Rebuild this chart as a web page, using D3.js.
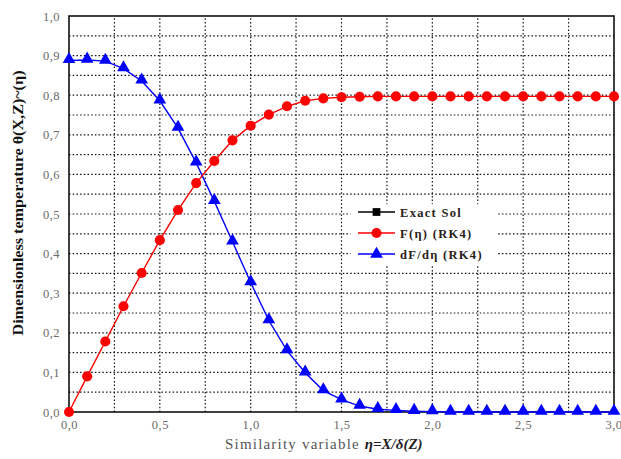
<!DOCTYPE html>
<html>
<head>
<meta charset="utf-8">
<script src="https://cdn.jsdelivr.net/npm/d3@7"></script>
<style>
  body { margin: 0; background: #fff; }
  svg text { font-family: "Liberation Serif", "DejaVu Serif", serif; }
</style>
</head>
<body>
<div id="chart"></div>
<script>
// similarity variable eta
const eta = [0, 0.1, 0.2, 0.3, 0.4, 0.5, 0.6, 0.7, 0.8, 0.9, 1.0,
  1.1, 1.2, 1.3, 1.4, 1.5, 1.6, 1.7, 1.8, 1.9, 2.0,
  2.1, 2.2, 2.3, 2.4, 2.5, 2.6, 2.7, 2.8, 2.9, 3.0];

// F(eta) (RK4)
const fValues = [0, 0.090, 0.178, 0.267, 0.351, 0.434, 0.510, 0.578, 0.634, 0.686, 0.723,
  0.751, 0.772, 0.786, 0.792, 0.795, 0.796, 0.797, 0.797, 0.797, 0.797,
  0.797, 0.797, 0.797, 0.797, 0.797, 0.797, 0.797, 0.797, 0.797, 0.797];

// dF/deta (RK4)
const dfValues = [0.888, 0.889, 0.886, 0.867, 0.836, 0.786, 0.717, 0.629, 0.532, 0.430, 0.327,
  0.231, 0.155, 0.099, 0.054, 0.031, 0.015, 0.007, 0.004, 0.002, 0.001,
  0, 0, 0, 0, 0, 0, 0, 0, 0, 0];

const xTicks = [0, 0.5, 1.0, 1.5, 2.0, 2.5, 3.0];
const yTicks = [0, 0.1, 0.2, 0.3, 0.4, 0.5, 0.6, 0.7, 0.8, 0.9, 1.0];

const legendItems = ["Exact Sol", "F(η) (RK4)", "dF/dη (RK4)"];

const width = 621, height = 459;
const margin = {left: 69, right: 7, top: 16, bottom: 47};

const svg = d3.select("#chart").append("svg")
  .attr("width", width).attr("height", height);

const x = d3.scaleLinear().domain([0, 3]).range([margin.left, width - margin.right]);
const y = d3.scaleLinear().domain([0, 1]).range([height - margin.bottom, margin.top]);

const fmt = d => d3.format(".1f")(d).replace(".", ",");

// dotted grid
const grid = svg.append("g");
grid.selectAll("line.h")
  .data(d3.range(1, 20).map(i => i * 0.05))
  .join("line")
  .attr("x1", x(0)).attr("x2", x(3))
  .attr("y1", d => y(d)).attr("y2", d => y(d))
  .attr("stroke", "#111").attr("stroke-width", 1.2)
  .attr("stroke-dasharray", "1.5,2.2");
grid.selectAll("line.v")
  .data(d3.range(1, 12).map(i => i * 0.25))
  .join("line")
  .attr("y1", y(0)).attr("y2", y(1))
  .attr("x1", d => x(d)).attr("x2", d => x(d))
  .attr("stroke", "#111").attr("stroke-width", 1.2)
  .attr("stroke-dasharray", "1.5,2.2");

// axes
const xAxis = svg.append("g")
  .attr("transform", `translate(0,${y(0)})`)
  .call(d3.axisBottom(x).tickValues(xTicks).tickFormat(fmt).tickSize(0).tickPadding(8));
const yAxis = svg.append("g")
  .attr("transform", `translate(${x(0)},0)`)
  .call(d3.axisLeft(y).tickValues(yTicks).tickFormat(fmt).tickSize(0).tickPadding(9));
[xAxis, yAxis].forEach(a => {
  a.select(".domain").remove();
  a.selectAll("text")
    .attr("font-family", "Liberation Serif, serif")
    .attr("font-size", 12.5)
    .attr("fill", "#6b6b6b")
    .attr("letter-spacing", "0.5px");
});
// last x label sits at the right edge, keep it inside
xAxis.selectAll("text").filter(d => d === 3).attr("text-anchor", "end").attr("dx", 8);

// frame
svg.append("rect")
  .attr("x", x(0)).attr("y", y(1))
  .attr("width", x(3) - x(0)).attr("height", y(0) - y(1))
  .attr("fill", "none").attr("stroke", "#111").attr("stroke-width", 1.6);

// legend background
svg.append("rect")
  .attr("x", x(1.55)).attr("y", y(0.525))
  .attr("width", 147).attr("height", 60)
  .attr("fill", "#fff");

// series
const fData = eta.map((e, i) => [e, fValues[i]]);
const dfData = eta.map((e, i) => [e, dfValues[i]]);
const line = d3.line().x(d => x(d[0])).y(d => y(d[1]));

const tri = d3.symbol().type(d3.symbolTriangle).size(70);
const circ = d3.symbol().type(d3.symbolCircle).size(80);
const sq = d3.symbol().type(d3.symbolSquare).size(60);

svg.append("path").datum(dfData).attr("d", line)
  .attr("fill", "none").attr("stroke", "#0000ff").attr("stroke-width", 1.4);
svg.append("path").datum(fData).attr("d", line)
  .attr("fill", "none").attr("stroke", "#ff0000").attr("stroke-width", 1.4);

svg.selectAll("path.tri").data(dfData).join("path")
  .attr("transform", d => `translate(${x(d[0])},${y(d[1]) - 1})`)
  .attr("d", tri).attr("fill", "#0000ff");
svg.selectAll("path.circ").data(fData).join("path")
  .attr("transform", d => `translate(${x(d[0])},${y(d[1])})`)
  .attr("d", circ).attr("fill", "#ff0000");

// legend
const legendColors = ["#000000", "#ff0000", "#0000ff"];
const legendSymbols = [sq, circ, tri];
const lg = svg.append("g").attr("transform", `translate(358,212)`);
legendItems.forEach((name, i) => {
  const row = lg.append("g").attr("transform", `translate(0,${i * 21})`);
  row.append("line").attr("x1", 0).attr("x2", 37)
    .attr("stroke", legendColors[i]).attr("stroke-width", 1.6);
  row.append("path").attr("transform", "translate(18.5,0)")
    .attr("d", legendSymbols[i]).attr("fill", legendColors[i]);
  row.append("text").attr("x", 42).attr("y", 4.5)
    .attr("font-size", 12.5).attr("font-weight", "bold")
    .attr("letter-spacing", "1.3px").attr("fill", "#2a2118")
    .text(name);
});

// x axis title
const xt = svg.append("text")
  .attr("x", 225).attr("y", 449)
  .attr("font-size", 15).attr("fill", "#555").attr("letter-spacing", "1.2px");
xt.append("tspan").text("Similarity variable ");
xt.append("tspan").attr("font-weight", "bold").attr("font-style", "italic")
  .attr("fill", "#222").attr("letter-spacing", "0px").text("η=X/δ(Z)");

// y axis title
svg.append("text")
  .attr("transform", `translate(23,203) rotate(-90)`)
  .attr("text-anchor", "middle")
  .attr("font-size", 14).attr("font-weight", "bold").attr("fill", "#111")
  .attr("textLength", 265).attr("lengthAdjust", "spacingAndGlyphs")
  .text("Dimensionless temperature θ(X,Z)~(η)");
</script>
</body>
</html>
